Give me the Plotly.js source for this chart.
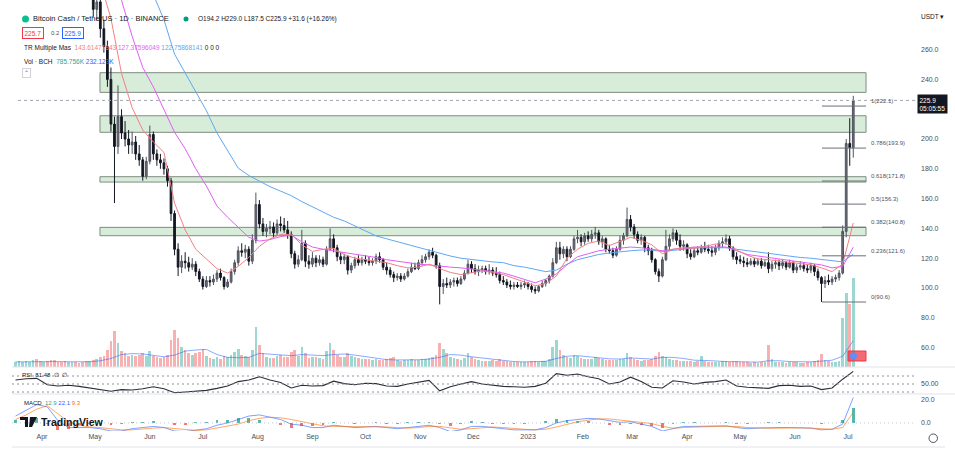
<!DOCTYPE html>
<html><head><meta charset="utf-8">
<script src="https://cdn.plot.ly/plotly-3.0.1.min.js"></script>
<style>html,body{margin:0;padding:0;background:#fff;}#chart{width:955px;height:462px;}</style>
</head><body><div id="chart"></div>
<script>
// ---------- DATA ----------
const startDate = Date.UTC(2022, 2, 17);   // first candle
const candleDays = 2;                        // each candle = 2 days
const openP = [330,340,345,355,370,378,390,385,380,385,375,345,330,322,320,315,325,330,325,310,305,300,302,287,292,274,262,240,210,195,
215,204,200,196,198,190,186,175,185,203,190,186,184,180,172,150,126,114,118,117,114,116,111,106,101,105,104,106,110,107,
101,104,111,117,125,124,126,118,132,156,143,138,140,141,137,143,142,139,136,123,116,119,130,118,116,120,117,119,116,126,
133,127,121,119,121,112,115,119,117,119,118,117,118,121,119,114,112,109,107,108,106,108,111,114,113,117,119,121,124,122,
115,101,103,102,104,105,103,106,110,116,113,111,112,113,111,112,110,109,105,104,102,101,102,101,102,103,101,99,98,101,
103,105,108,117,127,123,126,121,126,133,134,131,135,133,136,137,131,133,126,125,122,126,132,135,146,141,136,132,134,127,
125,119,111,108,119,128,133,137,132,128,129,123,121,125,124,127,126,125,124,127,130,131,133,127,121,119,118,117,116,118,
116,118,115,117,113,116,117,115,117,114,117,112,114,115,113,112,115,111,107,103,105,104,106,107,110,138,197,194.2];
const highP = [345,350,360,375,385,395,420,392,395,390,378,352,338,330,330,328,335,340,328,318,312,310,306,300,298,280,266,248,215,236,
220,212,206,205,202,196,188,188,209,205,193,190,187,182,174,152,130,122,124,121,120,118,113,108,108,108,109,112,113,108,
106,113,119,128,130,129,128,136,164,159,147,143,145,144,146,148,147,145,138,125,122,139,132,122,124,122,122,121,128,140,
136,129,124,123,122,117,121,122,121,122,121,120,123,124,120,117,114,111,110,110,110,113,117,117,119,122,123,126,127,123,
117,106,107,106,107,107,108,112,119,118,116,115,115,115,116,114,114,111,108,106,105,104,104,104,105,104,103,101,102,105,
106,109,120,131,131,128,128,128,135,139,136,137,138,139,141,139,135,134,129,127,128,135,137,154,149,143,138,136,135,129,
127,120,113,121,139,136,140,139,136,132,130,126,127,128,129,131,129,128,129,132,134,136,135,128,124,122,121,120,120,120,
120,120,119,124,118,119,119,119,118,119,118,116,118,117,116,117,116,113,108,108,109,108,109,112,142,200,214,229];
const lowP = [325,332,340,350,362,370,380,370,372,370,340,325,318,305,310,312,305,320,305,300,296,294,282,280,268,258,235,205,157,190,
200,195,190,190,186,182,172,173,183,186,182,180,176,168,145,122,108,110,113,111,112,108,104,99,100,101,102,104,105,99,
100,103,109,115,121,120,115,116,130,140,135,134,136,134,135,138,137,133,120,113,114,118,114,113,114,114,115,114,115,125,
124,118,116,116,109,110,113,115,115,116,115,115,116,117,112,109,107,104,105,104,105,107,110,112,112,115,117,119,120,113,
89,96,100,100,101,101,102,105,109,110,109,108,110,109,109,108,107,103,102,100,99,99,100,99,100,99,97,96,97,100,
101,103,107,116,119,120,118,120,125,130,128,129,131,131,133,129,127,124,123,120,121,125,129,134,138,133,130,129,124,122,
117,109,104,107,118,125,131,129,125,125,120,119,120,122,123,124,123,121,122,125,127,129,125,119,116,116,114,114,115,114,
115,113,114,110,111,113,112,113,112,113,110,110,112,111,110,110,108,105,90.6,100,102,102,104,105,109,134,182,187.5];
const closeP = [340,345,355,370,378,390,385,380,385,375,345,330,322,320,315,325,330,325,310,305,300,302,287,292,274,262,240,210,195,215,
204,200,196,198,190,186,175,185,203,190,186,184,180,172,150,126,114,118,117,114,116,111,106,101,105,104,106,110,107,101,
104,111,117,125,124,126,118,132,156,143,138,140,141,137,143,142,139,136,123,116,119,130,118,116,120,117,119,116,126,133,
127,121,119,121,112,115,119,117,119,118,117,118,121,119,114,112,109,107,108,106,108,111,114,113,117,119,121,124,122,115,
101,103,102,104,105,103,106,110,116,113,111,112,113,111,112,110,109,105,104,102,101,102,101,102,103,101,99,98,101,103,
105,108,117,127,123,126,121,126,133,134,131,135,133,136,137,131,133,126,125,122,126,132,135,146,141,136,132,134,127,125,
119,111,108,119,128,133,137,132,128,129,123,121,125,124,127,126,125,124,127,130,131,133,127,121,119,118,117,116,118,116,
118,115,117,113,116,117,115,117,114,117,112,114,115,113,112,115,111,107,103,105,104,106,107,110,138,197,194.3,225.9];
const volumeK = [45,50,40,55,48,60,70,50,45,55,65,60,48,42,50,44,40,46,38,42,50,55,
65,70,85,100,150,230,320,
210,140,120,100,110,95,105,120,100,140,100,90,80,90,110,
240,330,260,180,150,120,110,125,135,160,
100,80,70,85,70,100,90,110,130,160,110,100,90,
150,350,190,120,90,80,80,100,110,90,85,130,150,100,
180,120,80,90,85,80,75,140,210,150,110,90,85,120,100,85,80,75,70,70,
65,70,60,65,70,80,90,60,55,60,65,70,60,65,70,75,80,90,110,
210,160,120,90,80,70,65,80,120,
90,70,60,55,50,55,60,50,70,55,50,45,45,40,40,45,45,50,55,45,50,55,70,
180,240,150,110,90,80,110,100,80,70,75,70,90,80,70,65,60,65,60,70,75,
120,90,70,60,55,65,60,70,100,130,100,90,
70,65,60,55,55,50,50,45,50,95,50,45,45,40,45,50,50,45,55,50,45,40,40,38,40,38,42,40,
190,70,45,40,42,38,40,45,40,38,36,40,42,50,60,115,60,50,45,42,50,
430,650,560,785.756];

// indicator samples: one value every 3rd candle
const indStep = 3;
const maRed = [360,368,372,368,358,345,332,318,305,281,244,221,206,198,191,157,139,126,119.5,113,110,114.5,120.5,128,133,136,136,129,124.5,126,
126.5,122.5,120,119,118,117,115,113.5,114,116,113,110.5,109,110.5,111.5,110.5,109,106.5,104,101.5,103,108,120,126,130,131.5,128.5,131,134,132,
129,123,126,127,126.5,128,129.5,130,125.5,122,119.5,119,118,117.5,116.5,115.5,113.5,111,116,143.6147];
const maMagenta = [355,358,360,358,352,345,337,328,318,305,293,269,248,235,220,204.5,193.5,180,168.5,155,147.5,140.5,134,131.5,132.5,134.5,135.5,131,127.5,126,
125,123.5,122.5,121.5,120.5,119,118,116.5,116,115.5,115,114,113.5,113,112,111,110,108,106,103.5,106,109.5,115.5,121,123,125,126,127,127.5,127,
126,125,126,127,127.5,127.5,127.5,127.5,125,122.5,121.5,120.5,120,119,118,117,115.5,113.5,114.5,127.376];
const maBlue = [345,348,350,350,348,345,342,338,333,327,320,313,305,297,280,257,244,232,219,204,192,180.5,175.5,171.5,168,165,162,158,154.5,151,
147.5,145,141.5,138.5,135,133,131,129,127.5,125.5,123.5,121.5,120,119,118,117.5,117,115,114,112.5,111,112,116,119,121,122.5,123.5,124.5,125,125.5,
125.5,124.5,125,126,127,127,127,127,126,125,124,123,122,121.3,120.5,120,119.3,118.5,117.5,122.7587];
const volMA = [45,47,50,50,48,46,45,46,55,75,110,118,115,105,90,105,140,150,155,110,85,82,85,120,115,105,100,110,105,100,
110,115,105,90,75,65,62,62,64,70,85,110,105,90,80,65,55,48,45,47,50,75,95,100,90,80,72,70,80,75,
70,85,85,75,60,58,52,48,47,45,43,55,55,48,44,45,52,60,95,232.123];
const rsi = [60,63,64,48,45,47,44,40,37,32,36,35,38,43,38,28,30,32,34,39,45,56,60,68,60,54,40,47,45,46,
57,51,48,52,51,45,44,50,54,59,33,43,50,56,50,47,44,43,42,44,52,76,72,75,68,63,50,55,67,56,
42,40,58,55,50,54,56,60,45,42,41,39,46,47,44,45,36,40,62,81.48];
const macdLine = [6,11,16,14,2,-4,-4,-4,-5,-7,-7,-5,-4,-3,-4,-7,-7.5,-6,-5,-2,0,3,6,7,5,3,-1,-2,-4,-4,
-2,-3,-4,-3.5,-3,-4,-5,-4,-3,-2,-4,-7.5,-6,-3,-3,-4,-5,-6,-6,-6,-4,0,2,3,4,3.5,2,0.5,1,-1,
-3,-7,-5,-3,-3,-3,-3,-2.5,-4,-5,-4.5,-4,-4,-4,-4.5,-4.5,-6,-5.5,-1,22.1];
const signalLine = [3,7,12,15,8,1,-2,-3.5,-4,-5,-6,-6,-5,-4.5,-4,-5,-6,-6.5,-6,-4.5,-3,-1,2,4,5,4.5,3,1,-1,-2.5,
-3,-3,-3,-3.5,-3.5,-3.5,-4,-4.5,-4,-3,-3,-4.5,-5.5,-5,-4,-3.5,-4,-5,-5.5,-6,-5.5,-3.5,-1,1,2.5,3.5,3.5,2.5,1.5,1,
-0.5,-3,-4.5,-4,-3.5,-3,-3,-3,-3,-4,-4.5,-4.5,-4.5,-4.2,-4.3,-4.5,-5,-5.5,-4,9.3];
const macdHist = [3,4,4,-1,-6,-5,-2,-0.5,-1,-2,-1,1,1,1.5,0,-2,-1.5,0.5,1,2.5,3,4,4,3,0,-1.5,-4,-3,-3,-1.5,
1,0,-1,0,0.5,-0.5,-1,0.5,1,1,-1,-3,-0.5,2,1,-0.5,-1,-1,-0.5,0,1.5,3.5,3,2,1.5,0,-1.5,-2,-0.5,-2,
-2.5,-4,-0.5,1,0.5,0,0,0.5,-1,-1,0,0.5,0.5,0.2,-0.2,0,-1,0,3,12.9];

// drawings
const zoneTop = [244.5, 215.6, 174.7, 140.7];
const zoneBottom = [231.3, 204.5, 171.1, 135.1];
const zoneStart = '2022-05-03 19:00', zoneEnd = '2023-07-11 05:00';
const fibLevels = ['1','0.786','0.618','0.5','0.382','0.236','0'];
const fibPrices = [222.1, 193.9, 171.8, 156.3, 140.8, 121.6, 90.6];
const fibStart = '2023-06-16 07:00', fibEnd = '2023-07-11 05:00';
const lastPrice = 225.9;
const monthTicks = ['2022-04-01','2022-05-01','2022-06-01','2022-07-01','2022-08-01','2022-09-01','2022-10-01','2022-11-01','2022-12-01','2023-01-01','2023-02-01','2023-03-01','2023-04-01','2023-05-01','2023-06-01','2023-07-01'];
const monthLabels = ['Apr','May','Jun','Jul','Aug','Sep','Oct','Nov','Dec','2023','Feb','Mar','Apr','May','Jun','Jul'];
const priceTicks = [60,80,100,120,140,160,180,200,240,260];

// ---------- BUILD ----------
const DAY = 864e5;
const cDate = i => new Date(startDate + i*candleDays*DAY).toISOString().slice(0,10);
const dates = openP.map((_, i) => cDate(i));
const indDates = rsi.map((_, k) => cDate(k*indStep));
const volColors = closeP.map((c, i) => c >= openP[i] ? 'rgba(38,166,154,0.45)' : 'rgba(239,83,80,0.45)');
const histColors = macdHist.map(v => v >= 0 ? 'rgba(38,166,154,0.8)' : 'rgba(239,83,80,0.8)');

const FONT = 'Liberation Sans, Arial, sans-serif';
const L = 12, T = 0, W = 903, H = 431;
const px = x => (x - L) / W;
const py = y => (H - y) / H;

const traces = [
  {type:'bar', x:dates, y:volumeK, marker:{color:volColors, line:{width:0}}, width:1.5*DAY, xaxis:'x', yaxis:'y', hoverinfo:'skip'},
  {type:'scatter', mode:'lines', x:indDates, y:volMA, line:{color:'rgba(41,98,255,0.55)', width:1}, xaxis:'x', yaxis:'y', hoverinfo:'skip'},
  {type:'candlestick', x:dates, open:openP, high:highP, low:lowP, close:closeP, xaxis:'x', yaxis:'y4',
   increasing:{line:{color:'#50535e', width:1}, fillcolor:'#6a6d78'},
   decreasing:{line:{color:'#131722', width:1}, fillcolor:'#131722'}, whiskerwidth:0, hoverinfo:'skip'},
  {type:'scatter', mode:'lines', x:indDates, y:maBlue, line:{color:'#5ea8f2', width:1}, xaxis:'x', yaxis:'y4', hoverinfo:'skip'},
  {type:'scatter', mode:'lines', x:indDates, y:maMagenta, line:{color:'#e15ef5', width:1}, xaxis:'x', yaxis:'y4', hoverinfo:'skip'},
  {type:'scatter', mode:'lines', x:indDates, y:maRed, line:{color:'#f47f84', width:1}, xaxis:'x', yaxis:'y4', hoverinfo:'skip'},
  {type:'scatter', mode:'lines', x:indDates, y:rsi, line:{color:'#2a2e39', width:1.1}, xaxis:'x', yaxis:'y2', hoverinfo:'skip'},
  {type:'bar', x:indDates, y:macdHist, marker:{color:histColors, line:{width:0}}, width:1.6*DAY, xaxis:'x', yaxis:'y3', hoverinfo:'skip'},
  {type:'scatter', mode:'lines', x:indDates, y:macdLine, line:{color:'#2962ff', width:1}, opacity:0.6, xaxis:'x', yaxis:'y3', hoverinfo:'skip'},
  {type:'scatter', mode:'lines', x:indDates, y:signalLine, line:{color:'#ff6d00', width:1}, opacity:0.6, xaxis:'x', yaxis:'y3', hoverinfo:'skip'}
];

const shapes = [];
zoneTop.forEach((t, j) => shapes.push({type:'rect', xref:'x', yref:'y4', x0:zoneStart, x1:zoneEnd, y0:zoneBottom[j], y1:t,
  fillcolor:'rgba(200,230,201,0.7)', line:{color:'#7f8c80', width:1}, layer:'below'}));
fibPrices.forEach(p => shapes.push({type:'line', xref:'x', yref:'y4', x0:fibStart, x1:fibEnd, y0:p, y1:p, line:{color:'#6b6e78', width:1}}));
shapes.push({type:'line', xref:'paper', yref:'y4', x0:px(18), x1:1, y0:lastPrice, y1:lastPrice, line:{color:'#a3a6af', width:1, dash:'3px,3px'}});
[70,50,30].forEach(v => shapes.push({type:'line', xref:'paper', yref:'y2', x0:0, x1:1, y0:v, y1:v, line:{color:'#8f929b', width:1, dash:'2px,3px'}}));
shapes.push({type:'line', xref:'paper', yref:'y3', x0:0, x1:1, y0:0, y1:0, line:{color:'#c5c8cf', width:1, dash:'1px,3px'}});
[367, 394].forEach(y => shapes.push({type:'line', xref:'paper', yref:'paper', x0:0, x1:px(955), y0:py(y), y1:py(y), line:{color:'#e0e3eb', width:1}}));
shapes.push({type:'line', xref:'paper', yref:'paper', x0:0, x1:px(945), y0:py(447), y1:py(447), line:{color:'#e0e3eb', width:1}});
// legend logo, dot, clock, alert badge
shapes.push({type:'circle', xref:'paper', yref:'paper', x0:px(22), x1:px(29), y0:py(22.5), y1:py(15.5), fillcolor:'#0ac18e', line:{width:0}});
shapes.push({type:'circle', xref:'paper', yref:'paper', x0:px(183.5), x1:px(188.5), y0:py(21.5), y1:py(16.5), fillcolor:'#089981', line:{width:0}});
shapes.push({type:'circle', xref:'paper', yref:'paper', x0:px(929), x1:px(937.5), y0:py(442.5), y1:py(434), line:{color:'#50535e', width:1}});
shapes.push({type:'rect', xref:'paper', yref:'paper', x0:px(848), x1:px(866), y0:py(361), y1:py(351), fillcolor:'rgba(242,54,69,0.75)', line:{color:'#f23645', width:1}});
shapes.push({type:'circle', xref:'paper', yref:'paper', x0:px(850), x1:px(857), y0:py(359.5), y1:py(352.5), fillcolor:'#5b8ff9', line:{width:0}});
// TradingView logo mark
shapes.push({type:'path', xref:'paper', yref:'paper',
  path:`M ${px(20)} ${py(417)} L ${px(28)} ${py(417)} L ${px(28)} ${py(427)} L ${px(25)} ${py(427)} L ${px(25)} ${py(420)} L ${px(20)} ${py(420)} Z M ${px(30)} ${py(417)} L ${px(37)} ${py(417)} L ${px(32)} ${py(427)} L ${px(29)} ${py(427)} Z`,
  fillcolor:'#131722', line:{width:0}});

const ann = [];
const txt = (x, y, text, size, color, extra) => ann.push(Object.assign({xref:'paper', yref:'paper', x:px(x), y:py(y), text, showarrow:false,
  xanchor:'left', yanchor:'middle', font:{family:FONT, size, color}}, extra||{}));
txt(31, 19, 'Bitcoin Cash / TetherUS · 1D · BINANCE', 7.5, '#131722');
txt(196, 19, 'O194.2 H229.0 L187.5 C225.9 +31.6 (+16.26%)', 6.5, '#131722');
txt(22, 33, '225.7', 6.5, '#f23645', {bordercolor:'#f23645', borderwidth:1, borderpad:1.5});
txt(49, 33, '0.2', 6, '#50535e');
txt(62, 33, '225.9', 6.5, '#2962ff', {bordercolor:'#2962ff', borderwidth:1, borderpad:1.5});
txt(22, 47.5, 'TR Multiple Mas  <span style="color:#f47f84">143.61471943</span> <span style="color:#e15ef5">127.37596049</span> <span style="color:#5ea8f2">122.75868141</span> 0 0 0', 6.5, '#131722');
txt(22, 61, 'Vol · BCH  <span style="color:#26a69a">785.756K</span> <span style="color:#2962ff">232.123K</span>', 6.5, '#131722');
txt(22, 73, '⌃', 6, '#50535e', {bordercolor:'#d1d4dc', borderwidth:1, borderpad:1});
txt(20, 375, 'RSI  81.48  ∅  ∅', 6, '#131722');
txt(22, 403, 'MACD  <span style="color:#26a69a">12.9</span> <span style="color:#2962ff">22.1</span> <span style="color:#ff6d00">9.3</span>', 6, '#131722');
txt(39, 422, '<b>TradingView</b>', 10.5, '#131722');
txt(919, 17, 'USDT ▾', 6.5, '#131722');
txt(917, 104.5, '225.9<br>05:05:55', 6.5, '#ffffff', {bgcolor:'#131722', borderpad:1.5, align:'left'});
fibPrices.forEach((p, j) => ann.push({xref:'paper', yref:'y4', x:px(869), y:p, yshift:5, text:`${fibLevels[j]}(${p.toFixed(1)})`, showarrow:false,
  xanchor:'left', yanchor:'middle', font:{family:FONT, size:6, color:'#50535e'}}));

const axFont = {family:FONT, size:7, color:'#4a4d56'};
const layout = {
  width:955, height:462, margin:{l:L, r:955-L-W, t:T, b:462-H}, paper_bgcolor:'#fff', plot_bgcolor:'rgba(0,0,0,0)',
  showlegend:false, bargap:0, dragmode:false,
  xaxis:{type:'date', anchor:'y3', range:['2022-03-15 00:39','2023-08-07 22:05'], tickvals:monthTicks, ticktext:monthLabels,
    showgrid:false, zeroline:false, showline:false, ticks:'', tickfont:axFont, rangeslider:{visible:false}, fixedrange:true},
  yaxis:{domain:[py(367), 1], range:[0, 3240], visible:false, fixedrange:true},
  yaxis4:{overlaying:'y', side:'right', range:[46.98, 293.29], tickvals:priceTicks, tickformat:'.1f', showgrid:false, zeroline:false,
    showline:false, ticks:'', tickfont:axFont, ticklabelstandoff:5, fixedrange:true},
  yaxis2:{domain:[py(394), py(367)], range:[25, 92.5], side:'right', anchor:'x', tickvals:[50], ticktext:['50.00'], showgrid:false,
    zeroline:false, showline:false, ticks:'', tickfont:axFont, ticklabelstandoff:5, fixedrange:true},
  yaxis3:{domain:[0, py(394)], range:[-7, 25.2], side:'right', anchor:'x', tickvals:[0,20], tickformat:'.1f', showgrid:false,
    zeroline:false, showline:false, ticks:'', tickfont:axFont, ticklabelstandoff:5, fixedrange:true},
  shapes, annotations:ann
};
Plotly.newPlot('chart', traces, layout, {displayModeBar:false, staticPlot:true});
</script></body></html>
